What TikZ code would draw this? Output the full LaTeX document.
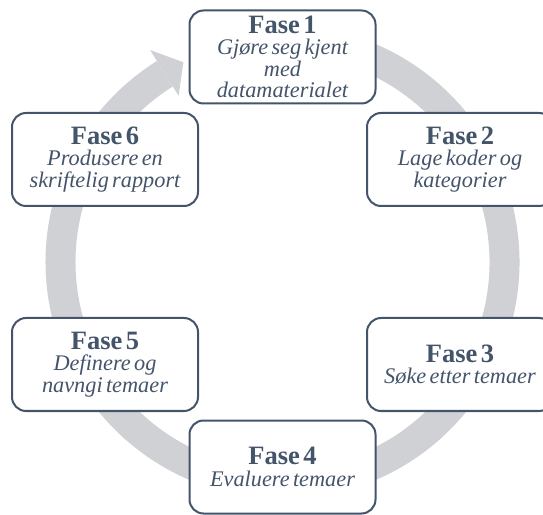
\documentclass[tikz,border=0pt]{standalone}
\usepackage{fontspec}
\setmainfont{Liberation Serif}
\definecolor{txt}{HTML}{44546A}
\definecolor{ringgray}{HTML}{D0D1D5}
\newcommand\fasehead[1]{{\fontsize{26.5}{24}\selectfont\bfseries #1\par}}
\newcommand\fasebody[1]{{\fontsize{22.3}{21.5}\selectfont\itshape #1\par}}
\tikzset{
  phasebox/.style={draw=txt, line width=2pt, rounded corners=14pt, fill=white,
    minimum width=186pt, minimum height=93pt, text width=184pt, align=center,
    text=txt, inner sep=0pt},
  ring/.style={draw=ringgray, line width=30pt}
}
\begin{document}
\begin{tikzpicture}[x=1pt,y=1pt]
\useasboundingbox (0,0) rectangle (543,514);
\coordinate (c) at (282.5,252);
% circular arrow
\draw[ring] ([shift={(100:222)}]c) arc[start angle=100, end angle=-238, radius=222];
\fill[ringgray] ([shift={(122:196)}]c) -- ([shift={(116.4:223)}]c) -- ([shift={(122:250)}]c) -- cycle;
% phases
\node[phasebox] (f1) at (282.5,457) {\fasehead{Fase 1}\fasebody{Gjøre seg kjent\\med\\datamaterialet}};
\node[phasebox] (f2) at (460,354.5) {\fasehead{Fase 2}\fasebody{Lage koder og\\kategorier}};
\node[phasebox] (f3) at (460,149.5) {\fasehead{Fase 3}\fasebody{Søke etter temaer}};
\node[phasebox] (f4) at (282.5,47) {\fasehead{Fase 4}\fasebody{Evaluere temaer}};
\node[phasebox] (f5) at (105,149.5) {\fasehead{Fase 5}\fasebody{Definere og\\navngi temaer}};
\node[phasebox] (f6) at (105,354.5) {\fasehead{Fase 6}\fasebody{Produsere en\\skriftelig rapport}};
\end{tikzpicture}
\end{document}
